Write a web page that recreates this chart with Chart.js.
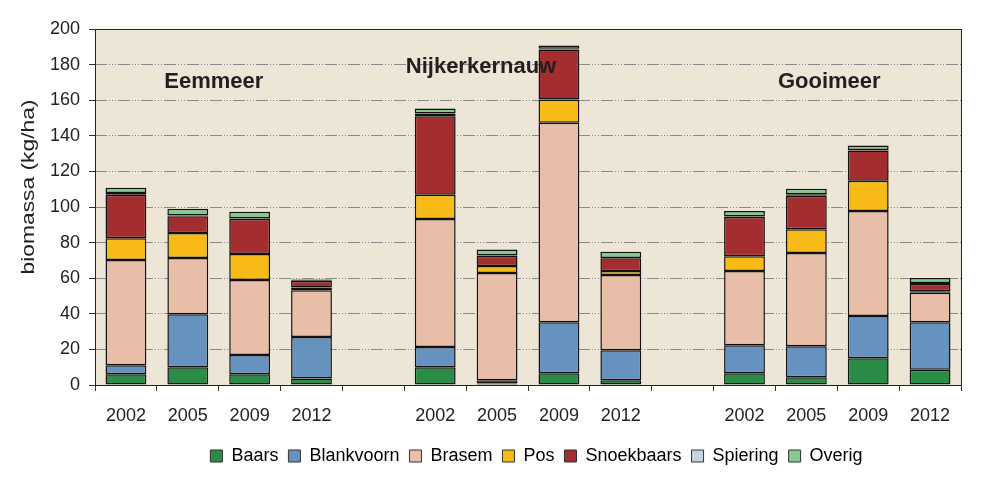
<!DOCTYPE html>
<html>
<head>
<meta charset="utf-8">
<script src="https://cdn.jsdelivr.net/npm/chart.js@4"></script>
<style>
  html, body { margin: 0; padding: 0; background: #fff; }
  #wrap { width: 1004px; height: 500px; }
</style>
</head>
<body>
<div id="wrap"><canvas id="chart" width="1004" height="500"></canvas></div>
<script>
// categories: 3 lakes x 4 years, with an empty slot between the lakes
var years = ['2002', '2005', '2009', '2012', '', '2002', '2005', '2009', '2012', '', '2002', '2005', '2009', '2012'];

// biomassa (kg/ha) per soort
var baars      = [6.0, 10.0, 6.0, 3.7, null, 10.0, 0.8, 6.6, 2.6, null, 6.6, 4.3, 15.0, 8.5];
var blankvoorn = [5.1, 29.8, 10.9, 23.3, null, 11.4, 1.8, 28.7, 16.9, null, 15.7, 17.5, 23.7, 26.8];
var brasem     = [59.1, 31.6, 42.1, 26.3, null, 71.9, 60.3, 112.1, 42.3, null, 41.7, 52.4, 59.1, 16.5];
var pos        = [12.2, 14.0, 14.6, 1.5, null, 13.6, 4.0, 13.0, 2.3, null, 8.3, 13.3, 17.0, 0.8];
var snoekbaars = [24.5, 9.4, 19.7, 3.6, null, 44.1, 5.6, 28.1, 7.1, null, 22.1, 18.8, 16.9, 4.1];
var spiering   = [0.9, 0.4, 0.3, 0.2, null, 1.5, 0.3, 0.4, 0.2, null, 0.3, 0.9, 0.3, 0.6];
var overig     = [3.0, 3.8, 3.7, 0.7, null, 2.8, 3.3, 1.9, 3.4, null, 3.1, 3.0, 2.5, 2.8];

var yTicks = [0, 20, 40, 60, 80, 100, 120, 140, 160, 180, 200];
var yTitle = 'biomassa (kg/ha)';

// lake names and where they sit (category position, value)
var lakeNames = ['Eemmeer', 'Nijkerkernauw', 'Gooimeer'];
var lakeX = [1.42, 5.74, 11.37];
var lakeY = [170, 178.6, 170];

var FONT = "'Liberation Sans', Arial, sans-serif";

function makeSet(label, data, color) {
  return {
    label: label,
    data: data,
    backgroundColor: color,
    borderColor: '#111',
    borderWidth: 1.5,
    borderSkipped: false,
    barPercentage: 0.66,
    categoryPercentage: 1
  };
}

var plotBox = {
  id: 'plotBox',
  afterLayout: function(chart) {
    // legend in the reference sits a bit right of centre
    chart.legend.left += 56;
    chart.legend.right += 56;
  },
  beforeDraw: function(chart) {
    var a = chart.chartArea, ctx = chart.ctx;
    ctx.save();
    ctx.fillStyle = '#ede5d5';
    ctx.fillRect(a.left, a.top, a.right - a.left, a.bottom - a.top);
    ctx.restore();
  },
  afterDatasetsDraw: function(chart) {
    var a = chart.chartArea, ctx = chart.ctx;
    var xs = chart.scales.x, ys = chart.scales.y;
    ctx.save();
    ctx.strokeStyle = '#222';
    ctx.lineWidth = 1;
    ctx.strokeRect(Math.round(a.left) + 0.5, Math.round(a.top) + 0.5,
      Math.round(a.right - a.left), Math.round(a.bottom - a.top));

    // lake names
    ctx.fillStyle = '#231f20';
    ctx.font = 'bold 22px ' + FONT;
    ctx.textAlign = 'center';
    ctx.textBaseline = 'middle';
    var step = xs.getPixelForValue(1) - xs.getPixelForValue(0);
    for (var i = 0; i < lakeNames.length; i++) {
      var px = xs.getPixelForValue(0) + lakeX[i] * step;
      ctx.fillText(lakeNames[i], px, ys.getPixelForValue(lakeY[i]));
    }

    // y axis title, a little stretched like the original
    ctx.translate(29, 187);
    ctx.rotate(-Math.PI / 2);
    ctx.scale(1.2, 1);
    ctx.fillStyle = '#222';
    ctx.font = '19px ' + FONT;
    ctx.fillText(yTitle, 0, 0);
    ctx.restore();
  }
};

var ctx = document.getElementById('chart');
var chart = new Chart(ctx, {
  type: 'bar',
  data: {
    labels: years,
    datasets: [
      makeSet('Baars', baars, '#2a8c47'),
      makeSet('Blankvoorn', blankvoorn, '#6692c0'),
      makeSet('Brasem', brasem, '#e9bea8'),
      makeSet('Pos', pos, '#f8ba16'),
      makeSet('Snoekbaars', snoekbaars, '#a32d2f'),
      makeSet('Spiering', spiering, '#c6d4e2'),
      makeSet('Overig', overig, '#86c88f')
    ]
  },
  options: {
    responsive: false,
    animation: false,
    layout: { padding: { top: 29, right: 43, left: 0, bottom: 25 } },
    plugins: {
      legend: {
        position: 'bottom',
        labels: {
          boxWidth: 12,
          boxHeight: 12,
          padding: 10,
          color: '#222',
          font: { family: FONT, size: 18 },
          generateLabels: function(chart) {
            return chart.data.datasets.map(function(ds, i) {
              return {
                text: ds.label,
                fillStyle: ds.backgroundColor,
                strokeStyle: '#333',
                lineWidth: 1,
                datasetIndex: i
              };
            });
          }
        }
      },
      tooltip: { enabled: false }
    },
    scales: {
      x: {
        stacked: true,
        afterFit: function(scale) { scale.height = 52; },
        grid: {
          display: true,
          drawOnChartArea: false,
          drawTicks: true,
          tickLength: 6,
          tickColor: '#333',
          offset: true
        },
        border: { display: false },
        ticks: {
          color: '#222',
          padding: 14,
          maxRotation: 0,
          autoSkip: false,
          font: { family: FONT, size: 18 }
        }
      },
      y: {
        stacked: true,
        min: 0,
        max: 200,
        afterFit: function(scale) { scale.width = 95; },
        afterBuildTicks: function(scale) {
          scale.ticks = yTicks.map(function(v) { return { value: v }; });
        },
        grid: {
          color: '#8a8a8a',
          lineWidth: 1,
          tickLength: 6,
          tickColor: '#333',
          tickBorderDash: []
        },
        border: { display: false, dash: [12, 2, 1, 2, 1, 2, 1, 2] },
        ticks: {
          color: '#222',
          padding: 9,
          font: { family: FONT, size: 18 }
        }
      }
    }
  },
  plugins: [plotBox]
});
</script>
</body>
</html>
